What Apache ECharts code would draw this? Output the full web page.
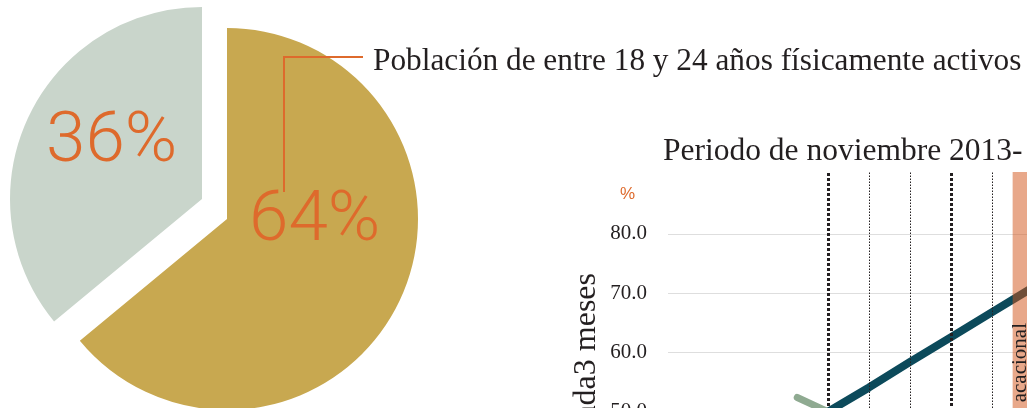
<!DOCTYPE html>
<html>
<head>
<meta charset="utf-8">
<script src="https://cdn.jsdelivr.net/npm/echarts@6/dist/echarts.min.js"></script>
<style>
  html, body { margin: 0; padding: 0; background: #fff; }
  #main { width: 1027px; height: 408px; }
</style>
</head>
<body>
<div id="main"></div>
<script>
// pie: share of 18-24 year olds who are physically active
const pieNames = ["Activos", "No activos"];
const pieValues = [64, 36];

// line chart
const yTicks = [50, 60, 70, 80];
const thickMarks = [0, 3];
const thinMarks = [1, 2, 4];
const prevTrend = [[-0.75, 52.4], [0, 50.0]];
const mainTrend = [[0, 50.0], [1, 54.1], [2, 58.4], [3, 62.6], [4, 66.8], [5, 71.0]];
const vacationStart = 4.5;

const ORANGE = "#de6a2c";
const SERIF = "Liberation Serif";
const INK = "#231f20";

const chart = echarts.init(document.getElementById("main"));

const hidden = { color: "rgba(0,0,0,0)" };

const option = {
  animation: false,
  grid: { left: 668, top: 172, right: 0, height: 299, outerBoundsMode: "none", containLabel: false },
  xAxis: {
    type: "value",
    min: -3.9,
    max: 4.85,
    show: false,
  },
  yAxis: {
    type: "value",
    min: 40,
    max: 90.45,
    axisLine: { show: false },
    axisTick: { show: false },
    splitLine: { show: false },
    axisLabel: {
      customValues: yTicks,
      formatter: (v) => v.toFixed(1),
      fontFamily: SERIF,
      fontSize: 21,
      color: INK,
      margin: 21,
    },
  },
  graphic: [
    // callout for the pie
    {
      type: "polyline",
      shape: { points: [[284, 192], [284, 57], [363, 57]] },
      style: { stroke: ORANGE, lineWidth: 2, fill: null },
      z: 10,
    },
    {
      type: "text",
      x: 373,
      y: 61.5,
      style: {
        text: "Población de entre 18 y 24 años físicamente activos",
        font: "31.3px '" + SERIF + "'",
        fill: INK,
        verticalAlign: "middle",
      },
    },
    {
      type: "text",
      x: 46,
      y: 143,
      z: 10,
      style: {
        text: pieValues[1] + "%",
        font: "300 71px Roboto",
        fill: ORANGE,
        verticalAlign: "middle",
      },
    },
    {
      type: "text",
      x: 249,
      y: 222.5,
      z: 10,
      style: {
        text: pieValues[0] + "%",
        font: "300 71px Roboto",
        fill: ORANGE,
        verticalAlign: "middle",
      },
    },
    // line chart texts
    {
      type: "text",
      x: 663,
      y: 151.5,
      style: {
        text: "Periodo de noviembre 2013-",
        font: "31.5px '" + SERIF + "'",
        fill: INK,
        verticalAlign: "middle",
      },
    },
    {
      type: "text",
      x: 627.5,
      y: 194.5,
      style: {
        text: "%",
        font: "17px 'Liberation Sans'",
        fill: ORANGE,
        align: "center",
        verticalAlign: "middle",
      },
    },
    {
      type: "text",
      x: 587,
      y: 273,
      rotation: Math.PI / 2,
      style: {
        text: "ada3 meses",
        font: "32px '" + SERIF + "'",
        fill: INK,
        align: "right",
        verticalAlign: "middle",
      },
    },
    {
      type: "text",
      x: 1020,
      y: 323,
      rotation: Math.PI / 2,
      z: 120,
      style: {
        text: "acacional",
        font: "21px '" + SERIF + "'",
        fill: INK,
        align: "right",
        verticalAlign: "middle",
      },
    },
  ],
  series: [
    {
      type: "pie",
      center: [227, 219],
      radius: 191,
      startAngle: 90,
      silent: true,
      label: { show: false },
      labelLine: { show: false },
      data: [
        { name: pieNames[0], value: pieValues[0], itemStyle: { color: "#c8a850" } },
        { name: pieNames[1], value: pieValues[1], itemStyle: hidden },
      ],
    },
    {
      type: "pie",
      center: [202, 199],
      radius: 192,
      startAngle: 90,
      silent: true,
      label: { show: false },
      labelLine: { show: false },
      data: [
        { name: pieNames[0], value: pieValues[0], itemStyle: hidden },
        { name: pieNames[1], value: pieValues[1], itemStyle: { color: "#c9d5cb" } },
      ],
    },
    // horizontal grid lines
    {
      type: "line",
      data: [],
      z: 1,
      silent: true,
      markLine: {
        silent: true,
        z: 1,
        symbol: "none",
        label: { show: false },
        lineStyle: { color: "#dedede", width: 1, type: "solid" },
        data: yTicks.map((v) => ({ yAxis: v })),
      },
    },
    // vertical dotted month marks
    {
      type: "line",
      data: [],
      z: 2,
      silent: true,
      markLine: {
        silent: true,
        z: 6,
        symbol: "none",
        label: { show: false },
        data: [
          ...thickMarks.map((v) => ({ xAxis: v, lineStyle: { color: INK, width: 3, type: [3, 2] } })),
          ...thinMarks.map((v) => ({ xAxis: v, lineStyle: { color: INK, width: 1, type: [1.5, 1.5] } })),
        ],
      },
    },
    {
      type: "line",
      data: prevTrend,
      z: 3,
      symbol: "none",
      lineStyle: { color: "#8faa91", width: 7, cap: "round" },
    },
    {
      type: "line",
      data: mainTrend,
      z: 4,
      symbol: "none",
      lineStyle: { color: "#0c4a5b", width: 8 },
    },
    // vacation band
    {
      type: "line",
      data: [],
      z: 10,
      silent: true,
      markArea: {
        silent: true,
        z: 100,
        itemStyle: { color: "rgba(209,81,21,0.5)" },
        data: [[{ xAxis: vacationStart }, { xAxis: 6 }]],
      },
    },
  ],
};

chart.setOption(option);
</script>
</body>
</html>
